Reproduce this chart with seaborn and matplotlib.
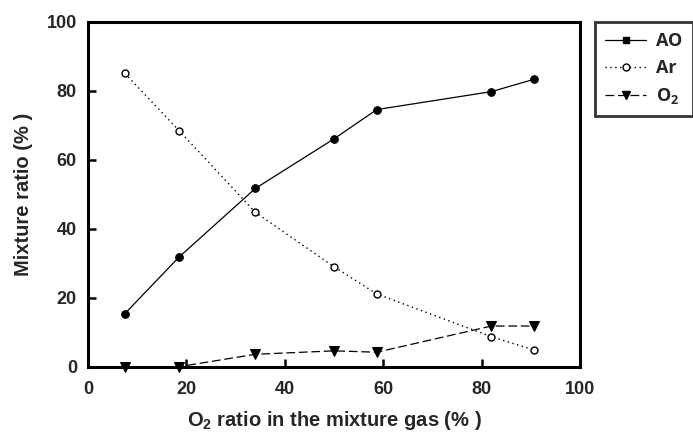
import matplotlib
matplotlib.use("Agg")
import matplotlib.pyplot as plt
import seaborn as sns
import pandas as pd
from matplotlib.lines import Line2D

x_o2 = [7.5, 18.5, 34, 50, 58.7, 82, 90.7]
ao = [15.4, 31.8, 51.7, 66.1, 74.6, 79.8, 83.4]
ar = [85.1, 68.5, 44.8, 29.0, 21.1, 8.7, 4.8]
o2 = [0, 0, 3.6, 4.6, 4.2, 11.8, 11.8]
series_names = ["AO", "Ar", "O$_2$"]
xticks = [0, 20, 40, 60, 80, 100]
yticks = [0, 20, 40, 60, 80, 100]

sns.set_theme(style="white")
plt.rcParams['font.family'] = ['Liberation Sans', 'DejaVu Sans']
plt.rcParams['mathtext.fontset'] = 'custom'
plt.rcParams['mathtext.rm'] = 'Open Sans:bold'
plt.rcParams['mathtext.bf'] = 'Liberation Sans:bold'

fig = plt.figure(figsize=(6.93, 4.34), dpi=100)
ax = fig.add_axes([88/693, 1-366.7/434, (580-88)/693, (366.7-22)/434])

df = pd.DataFrame({"x": x_o2, "AO": ao, "Ar": ar, "O2": o2})

sns.lineplot(data=df, x="x", y="AO", ax=ax, color="black", lw=0.9,
             marker="o", markersize=5.5, markerfacecolor="black", markeredgecolor="black", zorder=3)
sns.lineplot(data=df, x="x", y="Ar", ax=ax, color="black", lw=1.0, linestyle=(0, (1, 2.5)),
             marker="o", markersize=5, markerfacecolor="white", markeredgecolor="black",
             markeredgewidth=1.0, zorder=3)
sns.lineplot(data=df, x="x", y="O2", ax=ax, color="black", lw=0.9, linestyle=(0, (7, 3)),
             marker="v", markersize=6.5, markerfacecolor="black", markeredgecolor="black", zorder=3,
             clip_on=False)

ax.set_xlim(0, 100)
ax.set_ylim(0, 100)
ax.set_xticks(xticks)
ax.set_yticks(yticks)
ax.set_xticklabels([str(t) for t in xticks], fontsize=13, fontweight='bold')
ax.set_yticklabels([str(t) for t in yticks], fontsize=13, fontweight='bold')
ax.tick_params(axis='x', direction='in', length=6, width=1.8, color='black', pad=10, bottom=True)
ax.tick_params(axis='y', direction='in', length=6, width=1.8, color='black', pad=8, left=True)
for s in ax.spines.values():
    s.set_linewidth(2.2)
    s.set_color('black')

ax.set_xlabel(r"O$_\mathbf{2}$ ratio in the mixture gas (% )", fontsize=14.5,
              fontweight='bold', labelpad=8)
ax.set_ylabel("Mixture ratio (% )", fontsize=14.5, fontweight='bold', labelpad=10)

handles = [
    Line2D([], [], color='black', lw=0.9, marker='s', markersize=5, markerfacecolor='black'),
    Line2D([], [], color='black', lw=1.0, linestyle=(0, (1, 2.5)), marker='o', markersize=5,
           markerfacecolor='white', markeredgecolor='black'),
    Line2D([], [], color='black', lw=0.9, linestyle=(0, (7, 3)), marker='v', markersize=6,
           markerfacecolor='black'),
]
leg = fig.legend(handles, series_names, loc='upper left',
                 bbox_to_anchor=(595/693, 1-22/434), frameon=True, fancybox=False,
                 prop={'family': 'Open Sans', 'weight': 'bold', 'size': 13},
                 handlelength=2.3, handletextpad=0.55, labelspacing=0.5,
                 borderpad=0.55, borderaxespad=0)
leg.get_frame().set_edgecolor('black')
leg.get_frame().set_linewidth(2.0)

fig.savefig("out.png", dpi=100)
